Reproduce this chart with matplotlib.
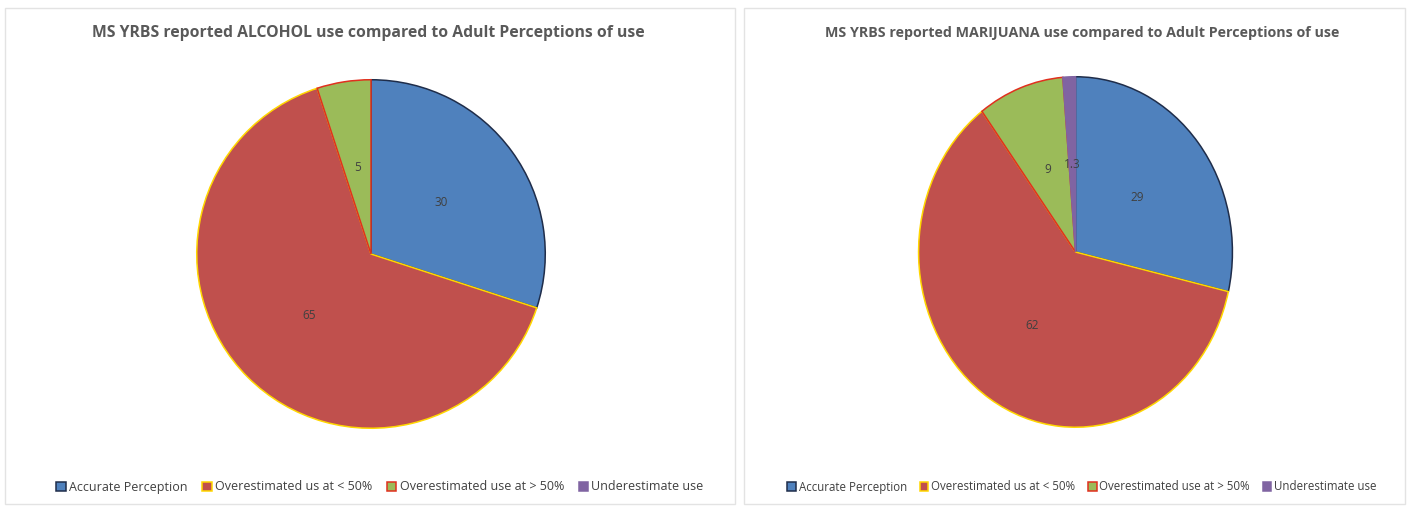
import matplotlib
matplotlib.use("Agg")
import matplotlib.pyplot as plt
from matplotlib.patches import Patch, Rectangle
import numpy as np

plt.rcParams['font.family'] = ['Open Sans', 'DejaVu Sans']

categories = ["Accurate Perception", "Overestimated us at < 50%",
              "Overestimated use at > 50%", "Underestimate use"]
alcohol = [30, 65, 5]
marijuana = [29, 62, 9, 1.3]
alcohol_labels = ["30", "65", "5"]
marijuana_labels = ["29", "62", "9", "1.3"]

fills = ["#4F81BD", "#C0504D", "#9BBB59", "#8064A2"]
edges = ["#1F2D4A", "#FFD700", "#E0301E", "#8064A2"]

W, H = 1408, 508
fig = plt.figure(figsize=(W / 100, H / 100), dpi=100)

# panel frames
for x0, x1 in [(5, 735), (744, 1405)]:
    fig.add_artist(Rectangle((x0 / W, 4 / H), (x1 - x0) / W, (504 - 8) / H,
                             transform=fig.transFigure, fill=False,
                             edgecolor="#E3E3E3", linewidth=1))


def draw_pie(cx, cy, rx, ry, values, labels, title, title_x, title_size,
             legend_x, legend_size, colspace):
    ax = fig.add_axes([(cx - rx) / W, (H - cy - ry) / H, 2 * rx / W, 2 * ry / H])
    n = len(values)
    wedges, _ = ax.pie(values, colors=fills[:n], startangle=90, counterclock=False,
                       radius=1, wedgeprops=dict(linewidth=1.1))
    for w, ec in zip(wedges, edges[:n]):
        w.set_edgecolor(ec)
    for w, lab in zip(wedges, labels):
        mid = np.deg2rad((w.theta1 + w.theta2) / 2)
        ax.text(0.5 * np.cos(mid), 0.5 * np.sin(mid), lab, ha="center", va="center",
                fontsize=8.5, color="#404040")
    ax.set_aspect("auto")
    ax.set_xlim(-1.01, 1.01)
    ax.set_ylim(-1.01, 1.01)
    fig.text(title_x / W, 1 - 33 / H, title, ha="center", va="center",
             fontsize=title_size, fontweight="bold", color="#595959")
    handles = [Patch(facecolor=f, edgecolor=e, linewidth=1.1, label=c)
               for f, e, c in zip(fills, edges, categories)]
    fig.legend(handles=handles, loc="center", bbox_to_anchor=(legend_x / W, 1 - 487 / H),
               ncol=4, frameon=False, fontsize=legend_size, handlelength=0.75,
               handleheight=0.75, handletextpad=0.25, columnspacing=colspace,
               labelcolor="#404040")


draw_pie(371, 254, 176, 176, alcohol, alcohol_labels,
         "MS YRBS reported ALCOHOL use compared to Adult Perceptions of use",
         368, 11.3, 380, 9, 1.2)
draw_pie(1075.5, 252, 158.5, 177, marijuana, marijuana_labels,
         "MS YRBS reported MARIJUANA use compared to Adult Perceptions of use",
         1082, 10.3, 1082, 8.3, 1.1)

fig.savefig("out.png", dpi=100)
